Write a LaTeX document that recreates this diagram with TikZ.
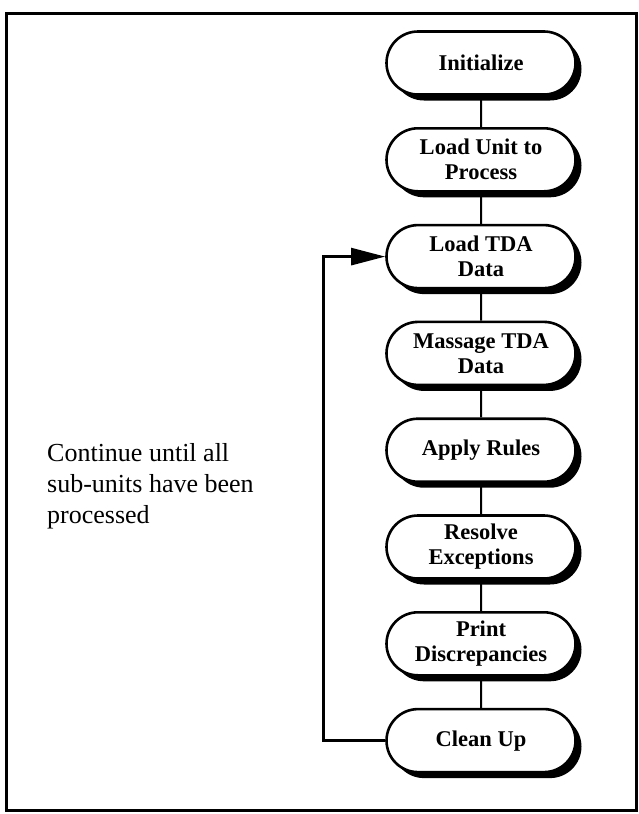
\documentclass[tikz,border=0pt]{standalone}
\usepackage{fontspec}
\setmainfont{Liberation Serif}
\usetikzlibrary{shapes.misc, arrows.meta, positioning, shadows}

\begin{document}
\begin{tikzpicture}[
    x=1pt, y=1pt,
    >={Triangle[length=34pt, width=17pt]},
    stepbox/.style={rounded rectangle, draw, line width=2.6pt, fill=white, minimum width=193pt, minimum height=63pt, inner sep=2pt, align=center, font=\fontsize{22.5}{25}\selectfont\bfseries, drop shadow={shadow xshift=6pt, shadow yshift=-6pt, fill=black, opacity=1}},
    link/.style={line width=2pt},
    note/.style={align=left, inner sep=0pt, font=\fontsize{26}{31}\selectfont},
    node distance=31.2pt,
    ]

    \useasboundingbox (0,0) rectangle (639,-814);
    \draw[line width=3pt] (6,-13) rectangle (636,-810);

    \node (init) [stepbox] at (481,-63) {Initialize};
    \node (load) [stepbox, below=of init] {Load Unit to\\Process};
    \node (tda) [stepbox, below=of load] {Load TDA\\Data};
    \node (massage) [stepbox, below=of tda] {Massage TDA\\Data};
    \node (rules) [stepbox, below=of massage] {Apply Rules};
    \node (resolve) [stepbox, below=of rules] {Resolve\\Exceptions};
    \node (print) [stepbox, below=of resolve] {Print\\Discrepancies};
    \node (clean) [stepbox, below=of print] {Clean Up};

    \draw[link] (init) -- (load);
    \draw[link] (load) -- (tda);
    \draw[link] (tda) -- (massage);
    \draw[link] (massage) -- (rules);
    \draw[link] (rules) -- (resolve);
    \draw[link] (resolve) -- (print);
    \draw[link] (print) -- (clean);

    % loop back
    \draw[->, line width=2.6pt] (clean.west) -- ++(-62,0) |- (tda.west);

    \node (cont) [note, anchor=north west] at (47,-443) {Continue until all\\sub-units have been\\processed};
\end{tikzpicture}
\end{document}
